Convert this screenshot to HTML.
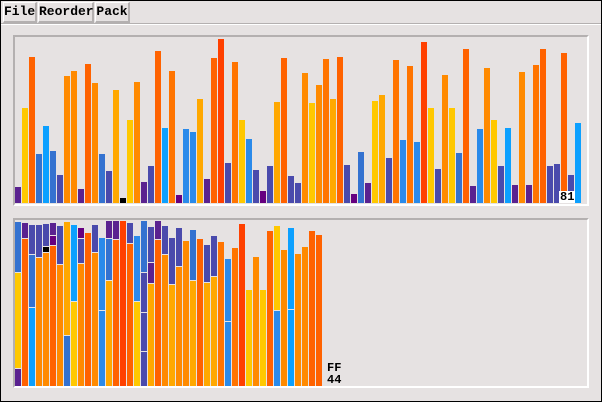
<!DOCTYPE html>
<html><head><meta charset="utf-8"><style>
body{margin:0;width:602px;height:402px;overflow:hidden;background:#000}
#w{position:absolute;left:1px;top:1px;width:600px;height:400px;background:#e6e2e2}
.btn{position:absolute;top:1px;height:18px;background:#e6e2e2;border-top:1px solid #fff;border-left:1px solid #fff;border-right:2px solid #b4b0b0;border-bottom:2px solid #b4b0b0;font:bold 13px "Liberation Mono",monospace;line-height:18px;text-align:center;color:#000}
.fr{position:absolute;border-top:2px solid #b4b0b0;border-left:2px solid #b4b0b0;border-right:2px solid #fff;border-bottom:2px solid #fff}
.b{position:absolute;width:6px}
.lb{position:absolute;font:bold 12px "Liberation Mono",monospace;line-height:12px;color:#000}
</style></head><body><div id="w">
<div class="btn" style="left:2px;width:31px">File</div>
<div class="btn" style="left:37px;width:53px">Reorder</div>
<div class="btn" style="left:94px;width:32px">Pack</div>
<div style="position:absolute;left:0;top:22px;width:600px;height:1px;background:#b4b0b0"></div>
<div style="position:absolute;left:0;top:23px;width:600px;height:1px;background:#fff"></div>
<div class="fr" style="left:12px;top:34px;width:572px;height:167px"></div>
<div class="fr" style="left:12px;top:217px;width:572px;height:166px"></div>
<div id="c"></div>
<div class="lb" style="left:558px;top:190px;background:#fff;padding:0 1px">81</div>
<div class="lb" style="left:326px;top:361px">FF<br>44</div>
</div>
<script>
var C={p:'#5a2290',d:'#660080',i:'#4a4aac',b:'#3472d0',l:'#0ca0ff',m:'#2a8aea',y:'#ffc800',a:'#ffa800',o:'#ff8a00',r:'#ff6200',R:'#ff4000',k:'#000',q:'#ff7400'};
var tp=[[186,'p'],[107,'y'],[56,'r'],[153,'b'],[125,'l'],[150,'b'],[174,'i'],[75,'o'],[70,'o'],[188,'p'],[63,'r'],[82,'o'],[153,'b'],[170,'i'],[89,'a'],[197,'k'],[119,'y'],[81,'o'],[181,'p'],[165,'i'],[50,'r'],[127,'l'],[70,'q'],[194,'d'],[128,'m'],[131,'m'],[98,'a'],[178,'p'],[57,'r'],[38,'R'],[162,'i'],[61,'q'],[119,'y'],[138,'m'],[169,'i'],[190,'d'],[165,'i'],[101,'a'],[57,'r'],[175,'i'],[182,'i'],
[72,'o'],[102,'y'],[84,'o'],[58,'q'],[98,'a'],[56,'r'],[164,'i'],[193,'d'],[151,'b'],[182,'p'],[100,'y'],[94,'a'],[157,'i'],[59,'q'],[139,'m'],[65,'q'],[141,'m'],[41,'R'],[107,'y'],[168,'i'],[74,'o'],[107,'y'],[152,'b'],[48,'r'],[185,'p'],[128,'m'],[67,'o'],[119,'y'],[165,'i'],[127,'l'],[184,'p'],[71,'o'],[184,'p'],[64,'q'],[48,'r'],[165,'i'],[163,'i'],[52,'r'],[174,'i'],[122,'l']];
var h='';
tp.forEach(function(t,n){var x=14+7*n;h+='<div class="b" style="left:'+x+'px;top:'+t[0]+'px;height:'+(202-t[0])+'px;background:'+C[t[1]]+'"></div>';});
var bot=[[[221,'b'],[272,'y'],[368,'p']],[[222,'p'],[238,'r']],[[224,'i'],[254,'b'],[307,'l']],[[224,'i'],[257,'o']],[[223,'i'],[246,'k'],[252,'o']],[[222,'p'],[235,'d'],[245,'r']],[[225,'i'],[264,'o']],[[221,'a'],[335,'b']],[[224,'l'],[301,'y']],[[227,'d'],[238,'i'],[263,'o']],[[232,'r']],[[224,'i'],[252,'o']],[[237,'m'],[310,'m']],[[220,'p'],[238,'b'],[280,'a']],[[220,'p'],[239,'r']],[[220,'R']],[[222,'i'],[243,'r']],[[235,'m'],[301,'y']],[[220,'b'],[272,'i'],[312,'i'],[351,'i']],[[226,'i'],[262,'p'],[283,'a']],[[220,'p'],[239,'r']],[[225,'i'],[254,'o']],[[237,'i'],[284,'a']],[[227,'i'],[266,'o']],[[240,'o']],[[229,'b'],[280,'a']],[[238,'r']],[[244,'i'],[282,'a']],[[235,'i'],[276,'a']],[[241,'q']],[[258,'m'],[321,'m']],[[247,'q']],[[223,'R']],[[289,'y']],[[256,'o']],[[289,'y']],[[230,'r']],[[225,'y'],[310,'m']],[[249,'o']],[[227,'l'],[309,'l']],[[253,'o']],[[246,'o']],[[230,'r']],[[234,'r']]];
bot.forEach(function(s,n){var x=14+7*n;s.forEach(function(t,j){var e=j<s.length-1?s[j+1][0]-1:385;h+='<div class="b" style="left:'+x+'px;top:'+t[0]+'px;height:'+(e-t[0])+'px;background:'+C[t[1]]+'"></div>';});});
document.getElementById('c').innerHTML=h;
</script></body></html>
